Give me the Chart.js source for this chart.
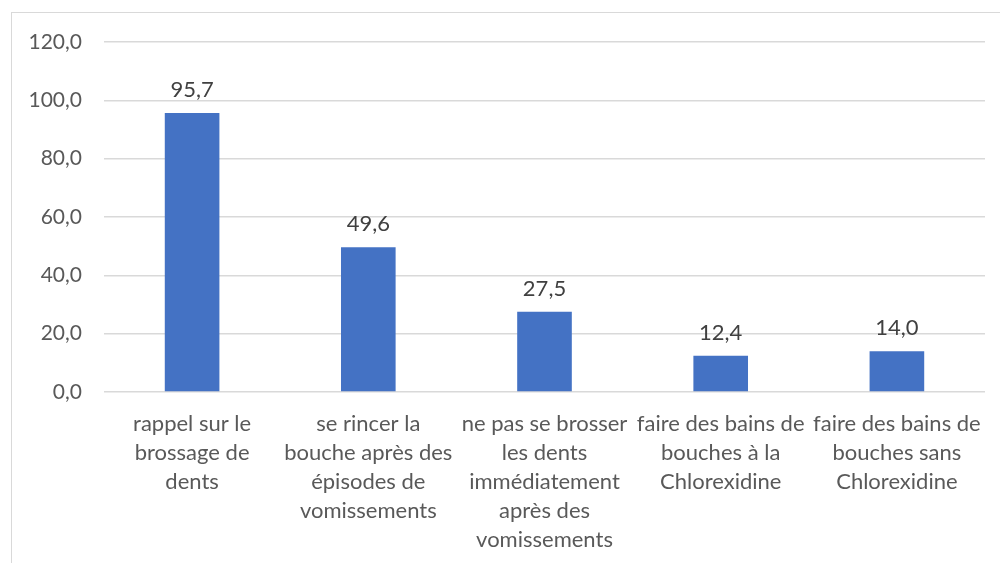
<!DOCTYPE html>
<html>
<head>
<meta charset="utf-8">
<script src="https://cdn.jsdelivr.net/npm/chart.js@4.4.0/dist/chart.umd.min.js"></script>
<style>
  html, body { margin: 0; padding: 0; background: #fff; }
  #wrap { position: relative; width: 1000px; height: 563px; overflow: hidden; }
  #frame { position: absolute; left: 11px; top: 12px; width: 1000px; height: 600px;
           border-left: 1px solid #d9d9d9; border-top: 1px solid #d9d9d9; }
  #chart { position: absolute; left: 0; top: 0; }
</style>
</head>
<body>
<div id="wrap">
  <div id="frame"></div>
  <canvas id="chart" width="1000" height="563"></canvas>
</div>
<script>
/* ===== Recommandations bar chart ===== */

const categories = [
  ['rappel sur le', 'brossage de', 'dents'],
  ['se rincer la', 'bouche après des', 'épisodes de', 'vomissements'],
  ['ne pas se brosser', 'les dents', 'immédiatement', 'après des', 'vomissements'],
  ['faire des bains de', 'bouches à la', 'Chlorexidine'],
  ['faire des bains de', 'bouches sans', 'Chlorexidine']
];
const values = [95.7, 49.6, 27.5, 12.4, 14.0];
const yTicks = [0, 20, 40, 60, 80, 100, 120];

const FONT = 'Lato, "Open Sans", sans-serif';

/** Format a number with one decimal and a comma */
function frNum(v) {
  return Number(v).toFixed(1).replace('.', ',');
}

// Draw the value above each bar
const valueLabels = {
  id: 'valueLabels',
  afterDatasetsDraw(chart) {
    const ctx = chart.ctx;
    const meta = chart.getDatasetMeta(0);
    ctx.save();
    ctx.font = '22px ' + FONT;
    ctx.fillStyle = '#404040';
    ctx.textAlign = 'center';
    ctx.textBaseline = 'bottom';
    meta.data.forEach((bar, i) => {
      ctx.fillText(frNum(values[i]), bar.x, bar.y - 12);
    });
    ctx.restore();
  }
};

const ctx = document.getElementById('chart').getContext('2d');
new Chart(ctx, {
  type: 'bar',
  data: {
    labels: categories,
    datasets: [{
      data: values,
      backgroundColor: '#4472c4',
      borderWidth: 0,
      categoryPercentage: 1,
      barPercentage: 0.31
    }]
  },
  options: {
    responsive: false,
    animation: false,
    layout: { padding: { top: 42, right: 15, bottom: 0, left: 0 } },
    plugins: {
      legend: { display: false },
      tooltip: { enabled: false }
    },
    scales: {
      y: {
        min: 0,
        max: 120,
        afterBuildTicks: axis => { axis.ticks = yTicks.map(v => ({ value: v })); },
        afterFit: axis => {
          axis.width = 104;
          axis.paddingTop = 0;
          axis.paddingBottom = 0;
        },
        border: { display: false },
        grid: { color: '#d9d9d9', lineWidth: 1.5, drawTicks: false },
        ticks: {
          padding: 22,
          color: '#595959',
          font: { family: FONT, size: 21 },
          callback: v => frNum(v)
        }
      },
      x: {
        afterFit: axis => { axis.height = 171; },
        border: { display: false },
        grid: { display: false, drawTicks: false },
        ticks: {
          padding: 17,
          autoSkip: false,
          maxRotation: 0,
          minRotation: 0,
          color: '#595959',
          font: { family: FONT, size: 22, lineHeight: 1.32 }
        }
      }
    }
  },
  plugins: [valueLabels]
});
</script>
</body>
</html>
